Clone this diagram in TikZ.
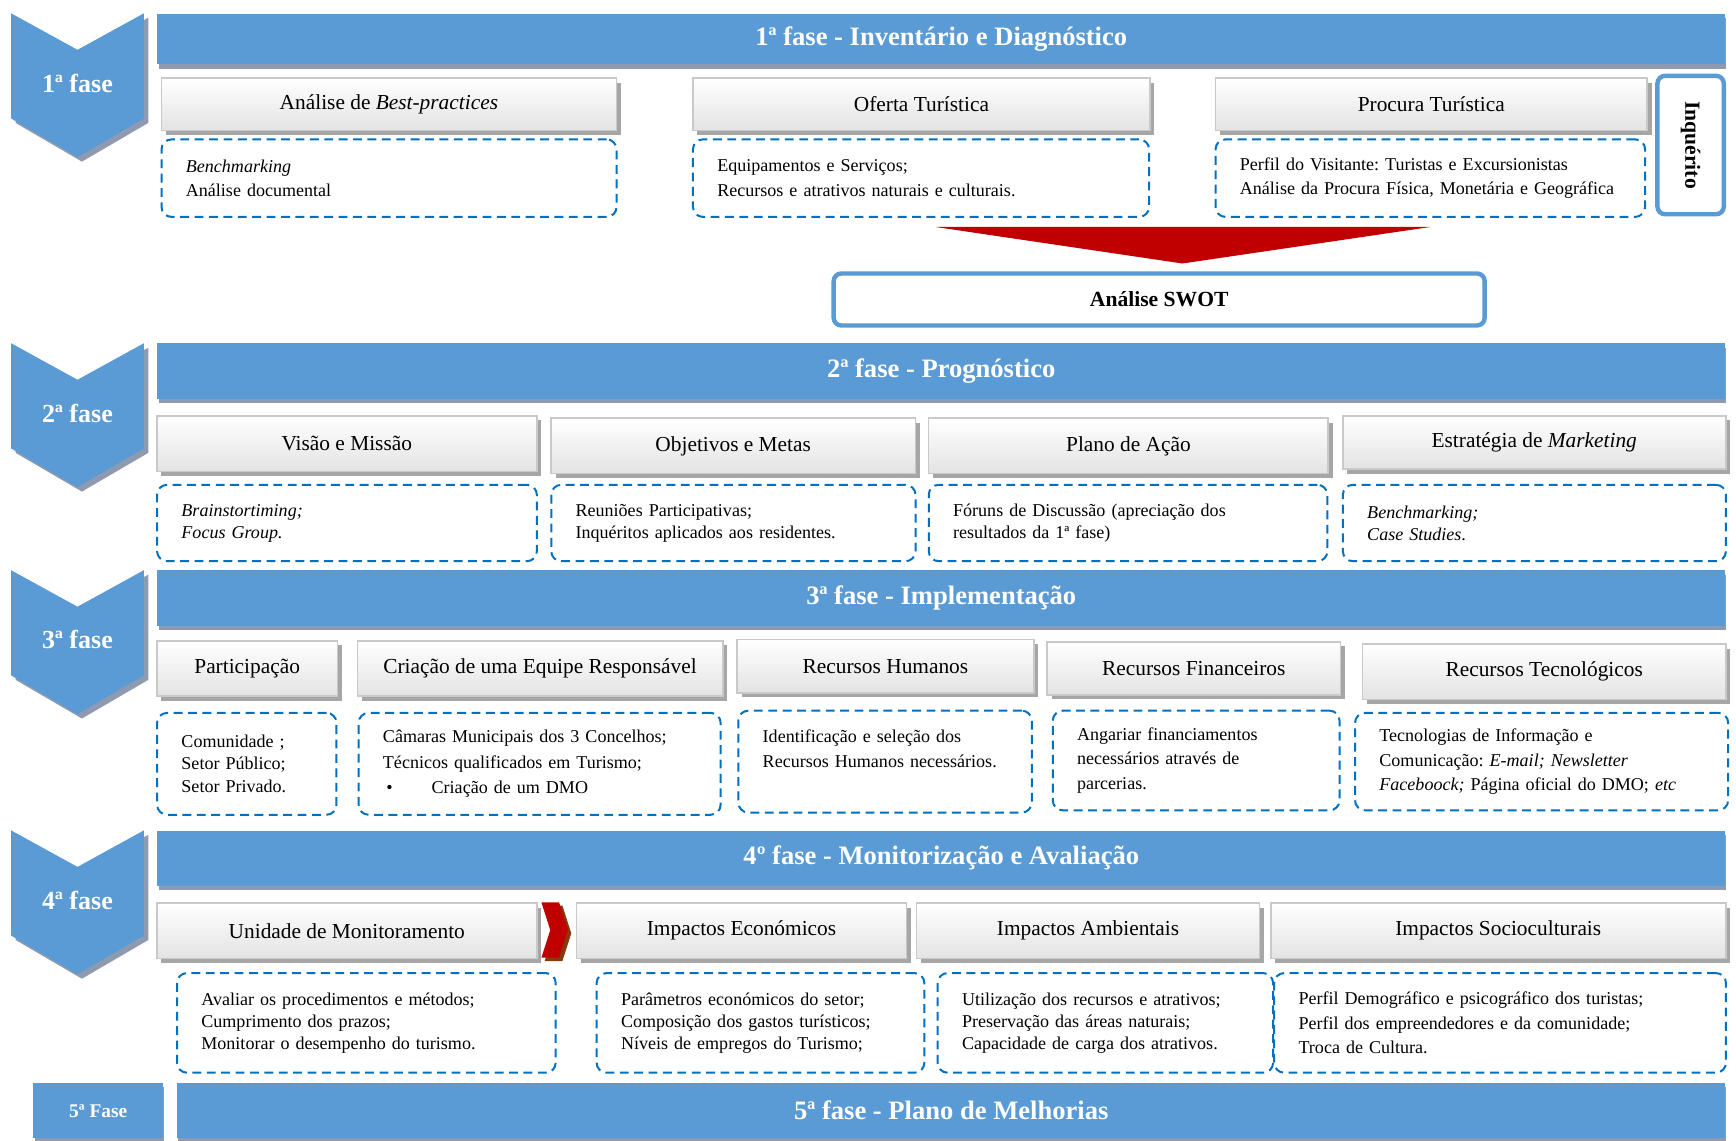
\documentclass[tikz,border=0pt]{standalone}
\usepackage{fontspec}
\setmainfont{Liberation Serif}
\usepackage{tikz}
\frenchspacing

\definecolor{phaseblue}{HTML}{5B9BD5}
\definecolor{shadowgray}{HTML}{8E9AAF}
\definecolor{boxline}{HTML}{C9C9C9}
\definecolor{boxshade}{HTML}{A6A6A6}
\definecolor{dashblue}{HTML}{0070C0}
\definecolor{arrowred}{HTML}{C00000}
\definecolor{arrowbrown}{HTML}{843C0C}

\tikzset{
  phasetext/.style={text=white,font=\fontsize{23.5}{27}\selectfont\bfseries},
  header/.style={fill=phaseblue,text=white,inner sep=0pt,anchor=north west,
    font=\fontsize{24}{28}\selectfont\bfseries,
    preaction={fill=shadowgray,transform canvas={xshift=1pt,yshift=-4pt}}},
  topic/.style={draw=boxline,line width=1.5pt,top color=white,bottom color=gray!22,
    inner sep=0pt,anchor=north west,font=\fontsize{19.3}{23}\selectfont,
    preaction={fill=boxshade,transform canvas={xshift=4pt,yshift=-4pt}}},
  detail/.style={draw=dashblue,dash pattern=on 8pt off 5pt,line width=1.8pt,
    rounded corners=9pt,inner xsep=22pt,inner ysep=0pt,anchor=north west,align=left,
    font=\fontsize{16.3}{20}\selectfont},
  bluebox/.style={draw=phaseblue,line width=4pt,rounded corners=7pt,fill=white,
    font=\fontsize{19.5}{23}\selectfont\bfseries}
}

\begin{document}
\begin{tikzpicture}[x=1pt,y=-1pt]
	\useasboundingbox (0,0) rectangle (1568,1030);
	% fases a esquerda
	\foreach \y/\n in {12/1,310/2,515/3,750/4}{
		\fill[shadowgray,shift={(4,4)}] (10,\y) -- (70,\y+33) -- (130,\y) -- (130,\y+95) -- (70,\y+130) -- (10,\y+95) -- cycle;
		\fill[phaseblue] (10,\y) -- (70,\y+33) -- (130,\y) -- (130,\y+95) -- (70,\y+130) -- (10,\y+95) -- cycle;
		\node[phasetext] (ph\n) at (70,\y+63) {{\n}ª fase};
	}
	\node[header,minimum width=117pt,minimum height=50pt,font=\fontsize{17.5}{20}\selectfont\bfseries] (ph5) at (30,978) {5ª Fase};

	% 1a fase
	\node[header,minimum width=1416pt,minimum height=46pt] (h1) at (142,12) {1ª fase - Inventário e Diagnóstico};
	\node[topic,minimum width=411pt,minimum height=47pt] (t11) at (145,70) {Análise de \textit{Best-practices}};
	\node[topic,minimum width=413pt,minimum height=47pt] (t12) at (625,70) {Oferta Turística};
	\node[topic,minimum width=390pt,minimum height=47pt] (t13) at (1097,70) {Procura Turística};
	\node[detail,text width=367pt,minimum height=70pt,font=\fontsize{16.3}{22}\selectfont] (d11) at (145,125) {\textit{Benchmarking}\\Análise documental};
	\node[detail,text width=368pt,minimum height=70pt,font=\fontsize{16.3}{22}\selectfont] (d12) at (625,125) {Equipamentos e Serviços;\\Recursos e atrativos naturais e culturais.};
	\node[detail,text width=344pt,minimum height=70pt,font=\fontsize{16.3}{22}\selectfont] (d13) at (1097,125) {Perfil do Visitante: Turistas e Excursionistas\\Análise da Procura Física, Monetária e Geográfica};
	\node[bluebox,rotate=-90,minimum width=125pt,minimum height=60pt,inner sep=0pt] (inq) at (1527,131) {Inquérito};
	\fill[arrowred] (845,205) -- (1292,205) -- (1068,238) -- cycle;
	\node[bluebox,minimum width=588pt,minimum height=47pt] (swot) at (1047,270.5) {Análise SWOT};

	% 2a fase
	\node[header,minimum width=1416pt,minimum height=50pt] (h2) at (142,310) {2ª fase - Prognóstico};
	\node[topic,minimum width=343pt,minimum height=50pt] (t21) at (141,375) {Visão e Missão};
	\node[topic,minimum width=329pt,minimum height=50pt] (t22) at (497,377) {Objetivos e Metas};
	\node[topic,minimum width=361pt,minimum height=50pt] (t23) at (838,377) {Plano de Ação};
	\node[topic,minimum width=346pt,minimum height=48pt] (t24) at (1212,375) {Estratégia de \textit{Marketing}};
	\node[detail,text width=299pt,minimum height=69pt] (d21) at (141,437) {\textit{Brainstortiming;}\\\textit{Focus Group.}};
	\node[detail,text width=285pt,minimum height=69pt] (d22) at (497,437) {Reuniões Participativas;\\Inquéritos aplicados aos residentes.};
	\node[detail,text width=316pt,minimum height=69pt] (d23) at (838,437) {Fóruns de Discussão (apreciação dos\\resultados da 1ª fase)};
	\node[detail,text width=302pt,minimum height=69pt] (d24) at (1212,437) {\textit{Benchmarking;}\\\textit{Case Studies}.};

	% 3a fase
	\node[header,minimum width=1416pt,minimum height=50pt] (h3) at (142,515) {3ª fase - Implementação};
	\node[topic,minimum width=163pt,minimum height=50pt] (t31) at (141,578) {Participação};
	\node[topic,minimum width=330pt,minimum height=50pt] (t32) at (322,578) {Criação de uma Equipe Responsável};
	\node[topic,minimum width=268pt,minimum height=48pt] (t33) at (665,577) {Recursos Humanos};
	\node[topic,minimum width=265pt,minimum height=48pt] (t34) at (945,579) {Recursos Financeiros};
	\node[topic,minimum width=328pt,minimum height=50pt] (t35) at (1230,581) {Recursos Tecnológicos};
	\node[detail,text width=118pt,minimum height=92pt] (d31) at (141,643) {Comunidade ;\\Setor Público;\\Setor Privado.};
	\node[detail,text width=283pt,minimum height=92pt,font=\fontsize{16.3}{23}\selectfont] (d32) at (323,643) {Câmaras Municipais dos 3 Concelhos;\\Técnicos qualificados em Turismo;\\\hspace*{3pt}\makebox[41pt][l]{\textbullet}Criação de um DMO};
	\node[detail,text width=221pt,minimum height=92pt,font=\fontsize{16.3}{23}\selectfont] (d33) at (666,641) {Identificação e seleção dos\\Recursos Humanos necessários.\\\mbox{}};
	\node[detail,text width=215pt,minimum height=90pt,font=\fontsize{16.3}{22.5}\selectfont] (d34) at (950,641) {Angariar financiamentos\\necessários através de\\parcerias.};
	\node[detail,text width=293pt,minimum height=88pt,font=\fontsize{16.3}{22.5}\selectfont] (d35) at (1223,643) {Tecnologias de Informação e\\Comunicação: \textit{E-mail; Newsletter}\\\textit{Faceboock;} Página oficial do DMO; \textit{etc}};

	% 4a fase
	\node[header,minimum width=1416pt,minimum height=50pt] (h4) at (142,750) {4º fase - Monitorização e Avaliação};
	\node[topic,minimum width=343pt,minimum height=50pt] (t41) at (141,815) {Unidade de Monitoramento};
	\node[topic,minimum width=298pt,minimum height=50pt] (t42) at (520,815) {Impactos Económicos};
	\node[topic,minimum width=310pt,minimum height=50pt] (t43) at (827,815) {Impactos Ambientais};
	\node[topic,minimum width=411pt,minimum height=50pt] (t44) at (1147,815) {Impactos Socioculturais};
	\fill[arrowbrown,shift={(3,3)}] (489,815) -- (505,815) -- (513,840) -- (505,865) -- (489,865) -- (497,840) -- cycle;
	\fill[arrowred] (489,815) -- (505,815) -- (513,840) -- (505,865) -- (489,865) -- (497,840) -- cycle;
	\node[detail,text width=298pt,minimum height=90pt] (d41) at (159,878) {Avaliar os procedimentos e métodos;\\Cumprimento dos prazos;\\Monitorar o desempenho do turismo.};
	\node[detail,text width=252pt,minimum height=90pt] (d42) at (538,878) {Parâmetros económicos do setor;\\Composição dos gastos turísticos;\\Níveis de empregos do Turismo;};
	\node[detail,text width=259pt,minimum height=90pt] (d43) at (846,878) {Utilização dos recursos e atrativos;\\Preservação das áreas naturais;\\Capacidade de carga dos atrativos.};
	\node[detail,text width=364pt,minimum height=90pt,font=\fontsize{16.3}{22}\selectfont] (d44) at (1150,878) {Perfil Demográfico e psicográfico dos turistas;\\Perfil dos empreendedores e da comunidade;\\Troca de Cultura.};

	% 5a fase
	\node[header,minimum width=1398pt,minimum height=50pt] (h5) at (160,978) {5ª fase - Plano de Melhorias};
\end{tikzpicture}
\end{document}
